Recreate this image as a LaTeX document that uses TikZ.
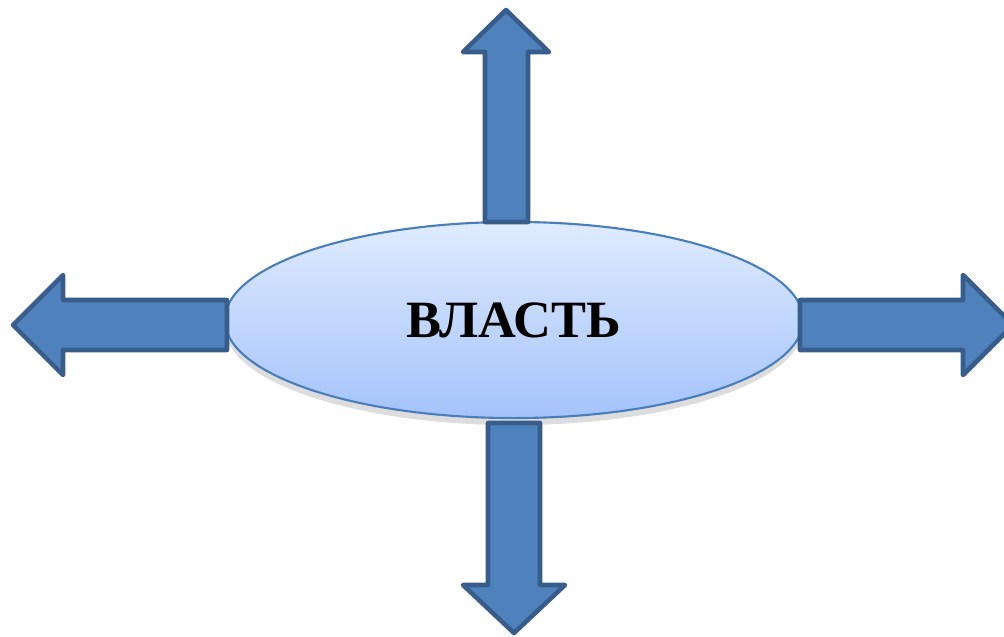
\documentclass[tikz,border=0pt]{standalone}
\usepackage{fontspec}
\setmainfont{Liberation Serif}
\usetikzlibrary{shapes.geometric}
\usetikzlibrary{shadows}

\definecolor{arrowfill}{HTML}{4F81BD}
\definecolor{arrowline}{HTML}{385D8A}
\definecolor{ovaltop}{HTML}{E0EBFE}
\definecolor{ovalbottom}{HTML}{A4C3FB}
\definecolor{ovalline}{HTML}{4A7EBB}

\begin{document}
\begin{tikzpicture}[x=0.01cm, y=-0.01cm,
	blockarrow/.style={fill=arrowfill, draw=arrowline, line width=1.3pt, line join=round},
	oval/.style={ellipse, draw=ovalline, line width=0.6pt, top color=ovaltop, bottom color=ovalbottom,
		minimum width=5.78cm, minimum height=1.96cm, inner sep=0pt,
		drop shadow={shadow xshift=0pt, shadow yshift=-2pt, opacity=0.22, fill=black!60}}]

\useasboundingbox (0,0) rectangle (1004,637);
\clip (0,0) rectangle (1004,637);

% centre
\node[oval] (power) at (514,320) {\fontsize{14.9}{17}\selectfont\bfseries ВЛАСТЬ};

% up
\draw[blockarrow] (485,222) -- (485,52) -- (463,52) -- (506,10) -- (549,52) -- (528,52) -- (528,222) -- cycle;

% left
\draw[blockarrow] (227,300) -- (63,300) -- (63,275) -- (13,325) -- (63,375) -- (63,350) -- (227,350) -- cycle;

% right
\draw[blockarrow] (800,300) -- (963,300) -- (963,275) -- (1013,325) -- (963,375) -- (963,350) -- (800,350) -- cycle;

% down
\draw[blockarrow] (488,423) -- (488,585) -- (463,585) -- (514,633) -- (565,585) -- (540,585) -- (540,423) -- cycle;

\end{tikzpicture}
\end{document}
